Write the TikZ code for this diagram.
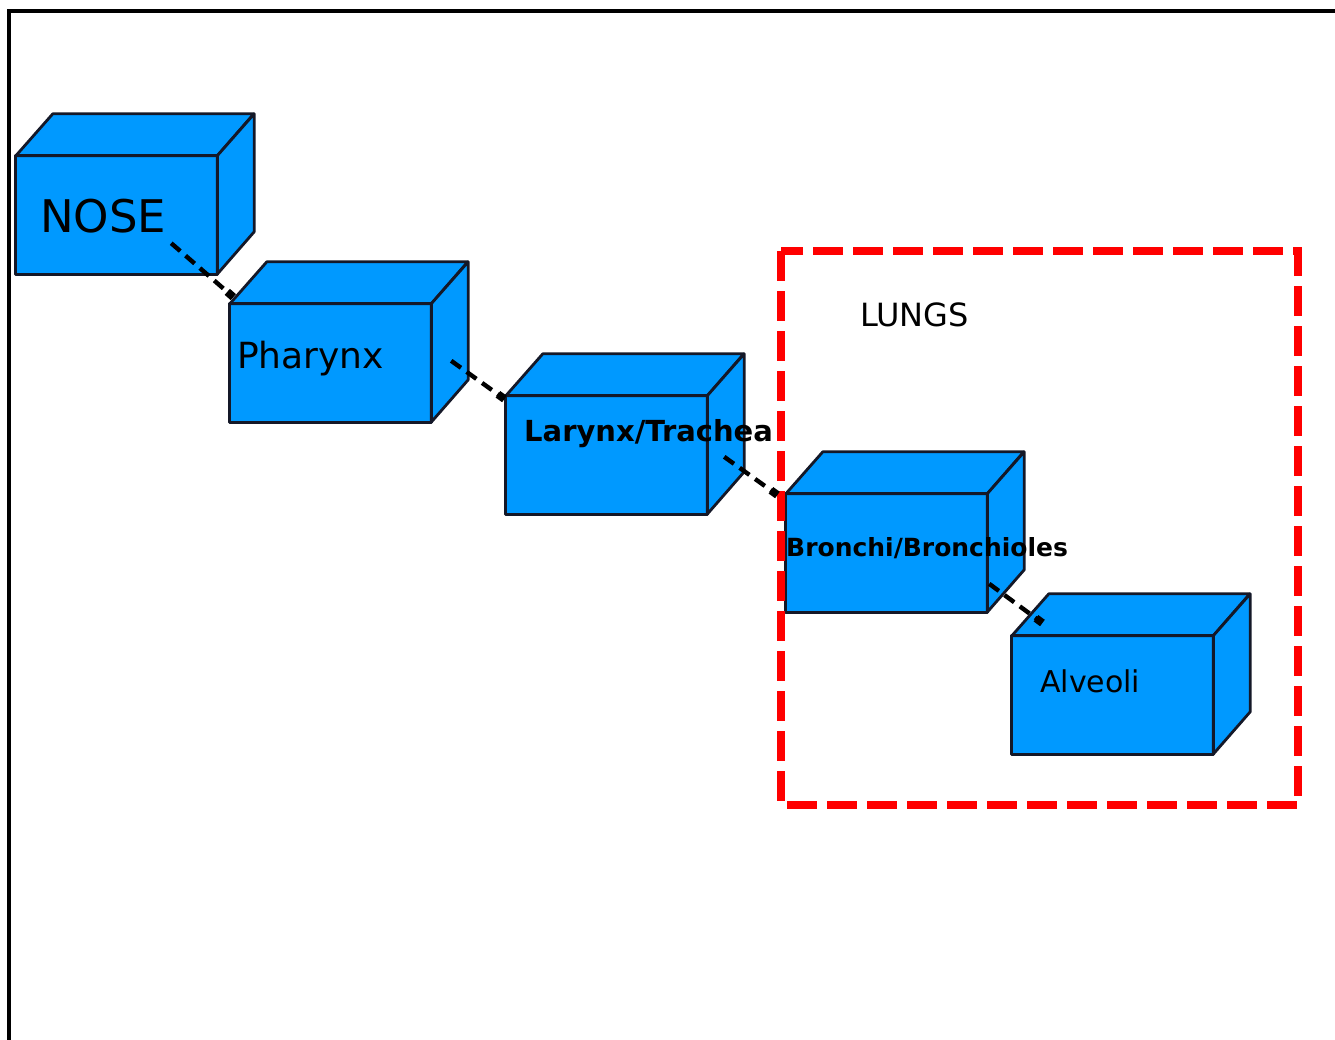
\documentclass[tikz,border=0pt]{standalone}
\usepackage{fontspec}
\setmainfont{DejaVu Sans}
\usetikzlibrary{arrows.meta,calc}

\definecolor{boxblue}{RGB}{0,153,255}
\definecolor{boxedge}{RGB}{20,24,40}
\definecolor{lungred}{RGB}{255,0,0}

\tikzset{
  front/.style={fill=boxblue, minimum width=201pt, minimum height=118pt, inner sep=0pt},
  face/.style={draw=boxedge, fill=boxblue, line width=2.8pt, line join=round},
  edge/.style={draw=boxedge, line width=2.8pt, line join=round},
  label/.style={anchor=base west, inner sep=0pt, text=black},
  flow/.style={draw=black, line width=4.4pt, dash pattern=on 12pt off 7pt,
               -{Square[length=8pt,width=8pt]}, shorten >=-2pt},
  lungbox/.style={draw=lungred, line width=7.5pt, dash pattern=on 30pt off 10pt},
  frame/.style={draw=black, line width=3.2pt}
}

% a cuboid: front face node plus its top and right faces, outlined evenly
\newcommand{\cuboid}[2]{%
  \node[front] (#1) at (#2) {};
  \path[face] (#1.north west) -- ++(37,-42) -- ++(201,0) -- (#1.north east) -- cycle;
  \path[face] (#1.north east) -- ++(37,-42) -- ++(0,118) -- (#1.south east) -- cycle;
  \path[edge] (#1.north west) rectangle (#1.south east);
}

\begin{document}
\begin{tikzpicture}[x=1pt,y=-1pt]
\useasboundingbox (0,0) rectangle (1335,1039);

% outer frame, open to the right and bottom
\draw[frame] (9,1045) -- (9,11) -- (1345,11);

% airway stages
\cuboid{nose}{116.5,215}
\cuboid{pharynx}{330.5,363}
\cuboid{larynx}{606.5,455}
\cuboid{bronchi}{886.5,553}
\cuboid{alveoli}{1112.5,695}

% lungs region
\draw[lungbox] (781,251) rectangle (1298,805);
\node[label, font=\fontsize{32}{36}\selectfont] (lungs) at (860,326) {LUNGS};

% stage names
\node[label, font=\fontsize{45}{50}\selectfont] (tnose) at (40,232) {NOSE};
\node[label, font=\fontsize{36}{40}\selectfont] (tpharynx) at (237,368) {Pharynx};
\node[label, font=\bfseries\fontsize{29}{32}\selectfont] (tlarynx) at (524,441) {Larynx/Trachea};
\node[label, font=\bfseries\fontsize{25}{28}\selectfont] (tbronchi) at (786,556) {Bronchi/Bronchioles};
\node[label, font=\fontsize{30}{34}\selectfont] (talveoli) at (1040,692) {Alveoli};

% air path between stages
\coordinate (s1) at ($(nose.south east)+(-46,-31)$);
\coordinate (s2) at ($(pharynx.north east)+(20,57)$);
\coordinate (s3) at ($(larynx.north east)+(17,61)$);
\coordinate (s4) at ($(bronchi.north east)+(2,90)$);
\draw[flow] (s1) -- ($(pharynx.north west)+(2,-8)$);
\draw[flow] (s2) -- ($(larynx.north west)+(-3,2)$);
\draw[flow] (s3) -- ($(bronchi.north west)+(-10,0)$);
\draw[flow] (s4) -- ($(alveoli.north west)+(29,-14)$);
\end{tikzpicture}
\end{document}
